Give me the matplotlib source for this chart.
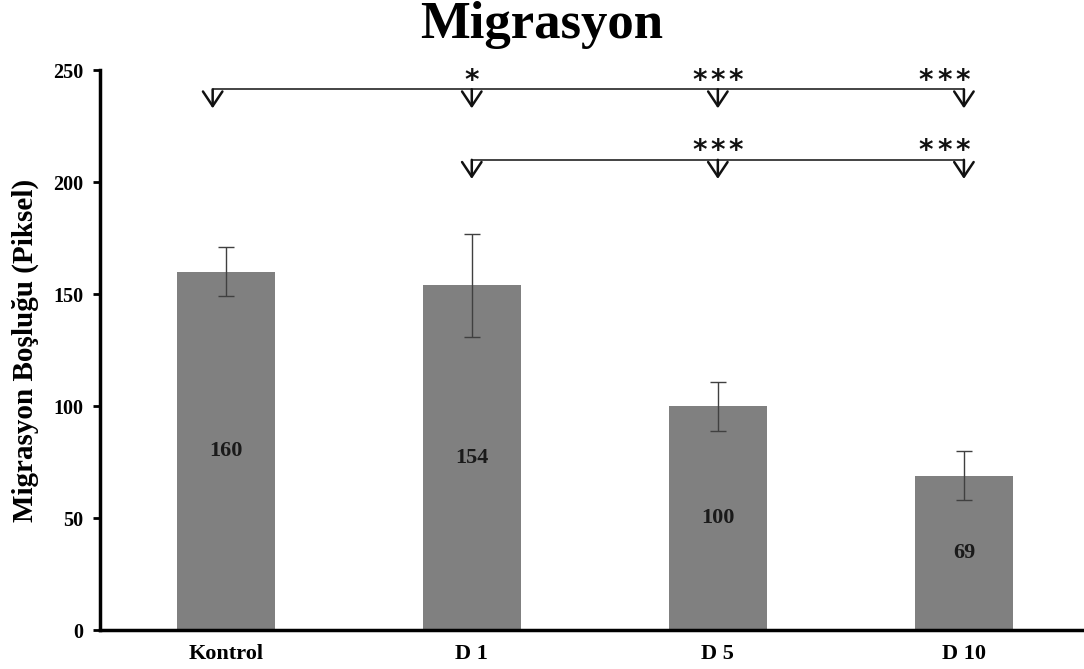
import matplotlib
matplotlib.use("Agg")
import matplotlib.pyplot as plt

categories = ["Kontrol", "D 1", "D 5", "D 10"]
values = [160, 154, 100, 69]
errors = [11, 23, 11, 11]

# significance brackets: (reference index, compared indices, star counts, level)
brackets = [
    (0, [1, 2, 3], [1, 3, 3], 241.5),
    (1, [2, 3], [3, 3], 210),
]

plt.rcParams["font.family"] = ["Liberation Serif", "DejaVu Serif"]
plt.rcParams["font.weight"] = "bold"

fig = plt.figure(figsize=(10.84, 6.69), dpi=100)
ax = fig.add_axes([0.092, 0.058, 0.908, 0.837])

x = list(range(len(categories)))
ax.bar(x, values, width=0.4, color="#808080", zorder=2)
ax.errorbar(x, values, yerr=errors, fmt="none", ecolor="#404040",
            elinewidth=1.0, capsize=6, capthick=1.0, zorder=3)

for xi, v in zip(x, values):
    ax.text(xi, v / 2, str(v), ha="center", va="center",
            fontsize=16, fontweight="bold", color="#1a1a1a", zorder=4)

def arrow_down(xp, y_top, y_tip):
    ax.annotate("", xy=(xp, y_tip), xytext=(xp, y_top),
                arrowprops=dict(arrowstyle="->,head_length=1.05,head_width=0.7",
                                color="#111111", lw=1.8, shrinkA=0, shrinkB=0),
                zorder=5)

for ref, targets, counts, level in brackets:
    left = ref - (0.053 if ref == 0 else 0.0)
    right = targets[-1]
    ax.plot([left, right], [level, level], color="#111111", lw=1.1, zorder=5,
            solid_capstyle="butt")
    arrow_down(left, level, level - 8.5)
    for t, n in zip(targets, counts):
        arrow_down(t, level, level - 8.5)
        dx = -0.08 if t == len(categories) - 1 else 0.0
        for k in range(n):
            ax.annotate("*", xy=(t + dx, level),
                        xytext=((k - (n - 1) / 2) * 13, 0.5),
                        textcoords="offset points", ha="center", va="baseline",
                        fontsize=20, fontfamily="DejaVu Sans", color="#111111")

ax.set_xlim(-0.512, 3.488)
ax.set_ylim(0, 250)
ax.set_yticks([0, 50, 100, 150, 200, 250])
ax.set_xticks(x)
ax.set_xticklabels(categories, fontsize=16, fontweight="bold")
ax.tick_params(axis="x", length=0, pad=10)
ax.tick_params(axis="y", direction="out", length=5, width=2, labelsize=14.5, pad=7)
for lbl in ax.get_yticklabels():
    lbl.set_fontweight("bold")

for side in ("top", "right"):
    ax.spines[side].set_visible(False)
for side in ("left", "bottom"):
    ax.spines[side].set_linewidth(2.5)

ax.set_ylabel("Migrasyon Boşluğu (Piksel)", fontsize=21, fontweight="bold",
              labelpad=10)
fig.text(0.5, 1 - 38 / 669, "Migrasyon", ha="center", va="baseline",
         fontsize=38, fontweight="bold")

fig.savefig("out.png", dpi=100)
